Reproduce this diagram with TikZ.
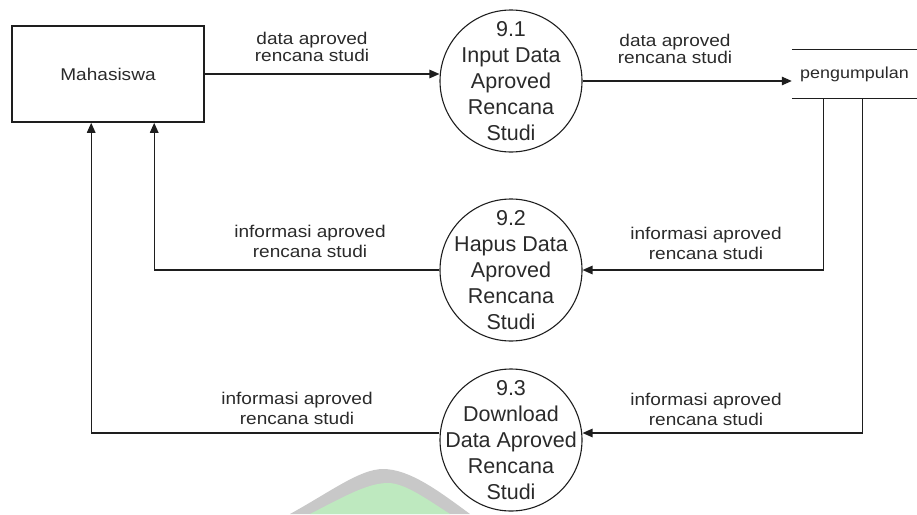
\documentclass[tikz,border=0pt]{standalone}
\usepackage{fontspec}
\setmainfont{Liberation Sans}
\newfontfamily\lblfont[FakeStretch=1.12]{Liberation Sans}
\usetikzlibrary{arrows.meta}
\definecolor{ink}{HTML}{1E1E1E}
\definecolor{txt}{HTML}{2A2A2A}
\definecolor{wmgray}{HTML}{C8C8C8}
\definecolor{wmgreen}{HTML}{BEE9BF}

\begin{document}
\begin{tikzpicture}[x=1pt,y=-1pt,
  flow/.style={draw=ink, line width=1.3pt, -{Triangle[length=10pt,width=8.5pt]}},
  entity/.style={draw=ink, line width=1.6pt, minimum width=192pt, minimum height=96pt,
    inner sep=0pt, text=txt, font=\lblfont\fontsize{17}{20}\selectfont},
  store/.style={minimum width=125pt, minimum height=48pt, inner sep=0pt, text=txt,
    font=\lblfont\fontsize{16}{20}\selectfont},
  storeline/.style={draw=ink, line width=1.3pt},
  process/.style={circle, draw=ink, line width=1.1pt, minimum size=142pt, inner sep=0pt},
  proctext/.style={align=center, inner sep=0pt, text=txt, font=\fontsize{21.5}{26}\selectfont},
  flowlabel/.style={align=center, text=txt, font=\lblfont\fontsize{17}{#1}\selectfont},
  flowlabel/.default=20
]
\useasboundingbox (0,0) rectangle (917,514);

% faint logo shape in the lower part of the page
\fill[wmgray] (290,514) .. controls (330,492) and (360,469) .. (383,469)
  .. controls (410,469) and (440,492) .. (470,514) -- cycle;
\fill[wmgreen] (310,514) .. controls (345,496) and (368,483) .. (388,483)
  .. controls (405,483) and (428,500) .. (450,514) -- cycle;

% external entity
\node[entity] (m) at (108,74) {Mahasiswa};

% data store
\node[store] (s) at (854.5,74) {pengumpulan};
\draw[storeline] (s.north west) -- (s.north east);
\draw[storeline] (s.south west) -- (s.south east);

% processes (circle outline and its text set separately)
\node[process] (p1) at (511,81) {};
\node[process] (p2) at (511,270) {};
\node[process] (p3) at (511,440) {};
\node[proctext] (t1) at (p1.center) {9.1\\Input Data\\Aproved\\Rencana\\Studi};
\node[proctext] (t2) at (p2.center) {9.2\\Hapus Data\\Aproved\\Rencana\\Studi};
\node[proctext] (t3) at (p3.center) {9.3\\Download\\Data Aproved\\Rencana\\Studi};

% connector end points
\coordinate (sa) at ([xshift=32pt]s.south west);
\coordinate (sb) at ([xshift=71pt]s.south west);
\coordinate (ma) at ([xshift=143pt]m.south west);
\coordinate (mb) at ([xshift=80pt]m.south west);
\coordinate (p3in) at ([yshift=7pt]p3.east);
\coordinate (p3out) at ([yshift=7pt]p3.west);

% data flows
\draw[flow] (m.east) -- (m.east -| p1.west);
\draw[flow] (p1.east) -- (p1.east -| s.west);
\draw[flow] (sa) |- (p2.east);
\draw[flow] (p2.west) -| (ma);
\draw[flow] (sb) |- (p3in);
\draw[flow] (p3out) -| (mb);

% flow labels
\node[flowlabel=15.5] (l1) at (312,47) {data aproved\\rencana studi};
\node[flowlabel=15.5] (l2) at (675,49) {data aproved\\rencana studi};
\node[flowlabel] (l3) at (310,241) {informasi aproved\\rencana studi};
\node[flowlabel] (l4) at (706,243) {informasi aproved\\rencana studi};
\node[flowlabel] (l5) at (297,408) {informasi aproved\\rencana studi};
\node[flowlabel] (l6) at (706,409) {informasi aproved\\rencana studi};
\end{tikzpicture}
\end{document}
